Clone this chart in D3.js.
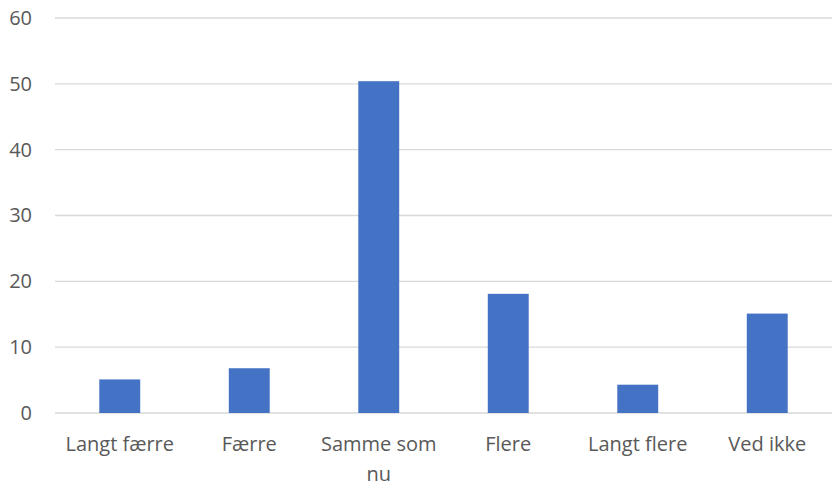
<!DOCTYPE html>
<html>
<head>
<meta charset="utf-8">
<script src="https://cdn.jsdelivr.net/npm/d3@7"></script>
<style>
	body { margin: 0; background: #fff; }
	svg text { font-family: "Open Sans", sans-serif; fill: #595959; }
</style>
</head>
<body>
<script>
// categories and values
const categories = ["Langt færre", "Færre", "Samme som nu", "Flere", "Langt flere", "Ved ikke"];
const values = [5.1, 6.8, 50.4, 18.1, 4.3, 15.1];
const yTicks = [0, 10, 20, 30, 40, 50, 60];

// set the dimensions and margins of the graph
var margin = { top: 18, right: 0, bottom: 73, left: 55 },
	width = 832 - margin.left - margin.right,
	height = 486 - margin.top - margin.bottom;

var svg = d3.select("body").append("svg")
	.attr("width", 832)
	.attr("height", 486)
	.append("g")
	.attr("transform", "translate(" + margin.left + "," + margin.top + ")");

var x = d3.scaleBand()
	.domain(categories)
	.range([0, width])
	.paddingInner(0.684)
	.paddingOuter(0.342);

var y = d3.scaleLinear()
	.domain([0, 60])
	.range([height, 0]);

// gridlines
svg.append("g")
	.selectAll("line")
	.data(yTicks)
	.enter().append("line")
	.attr("x1", 0)
	.attr("x2", width)
	.attr("y1", d => y(d))
	.attr("y2", d => y(d))
	.attr("stroke", "#d9d9d9")
	.attr("stroke-width", 1.3);

// y axis labels
var yAxis = svg.append("g")
	.call(d3.axisLeft(y).tickValues(yTicks).tickSize(0).tickPadding(23));
yAxis.select(".domain").remove();
yAxis.selectAll("text")
	.style("font-size", "20px")
	.attr("fill", "#595959");

// bars
svg.selectAll(".bar")
	.data(values)
	.enter().append("rect")
	.attr("class", "bar")
	.attr("x", (d, i) => x(categories[i]))
	.attr("width", x.bandwidth())
	.attr("y", d => y(d))
	.attr("height", d => height - y(d))
	.attr("fill", "#4472c4");

// x axis labels, wrapped when wider than the category slot
var xAxis = svg.append("g")
	.attr("transform", "translate(0," + height + ")")
	.call(d3.axisBottom(x).tickSize(0).tickPadding(24));
xAxis.select(".domain").remove();
xAxis.selectAll("text")
	.style("font-size", "20px")
	.attr("fill", "#595959")
	.each(function (d) {
		var words = d.split(" ");
		if (words.length > 2) {
			var t = d3.select(this).text(null);
			var dy = t.attr("dy");
			t.append("tspan").attr("x", 0).attr("dy", dy).text(words.slice(0, 2).join(" "));
			t.append("tspan").attr("x", 0).attr("dy", "1.5em").text(words.slice(2).join(" "));
		}
	});
</script>
</body>
</html>
